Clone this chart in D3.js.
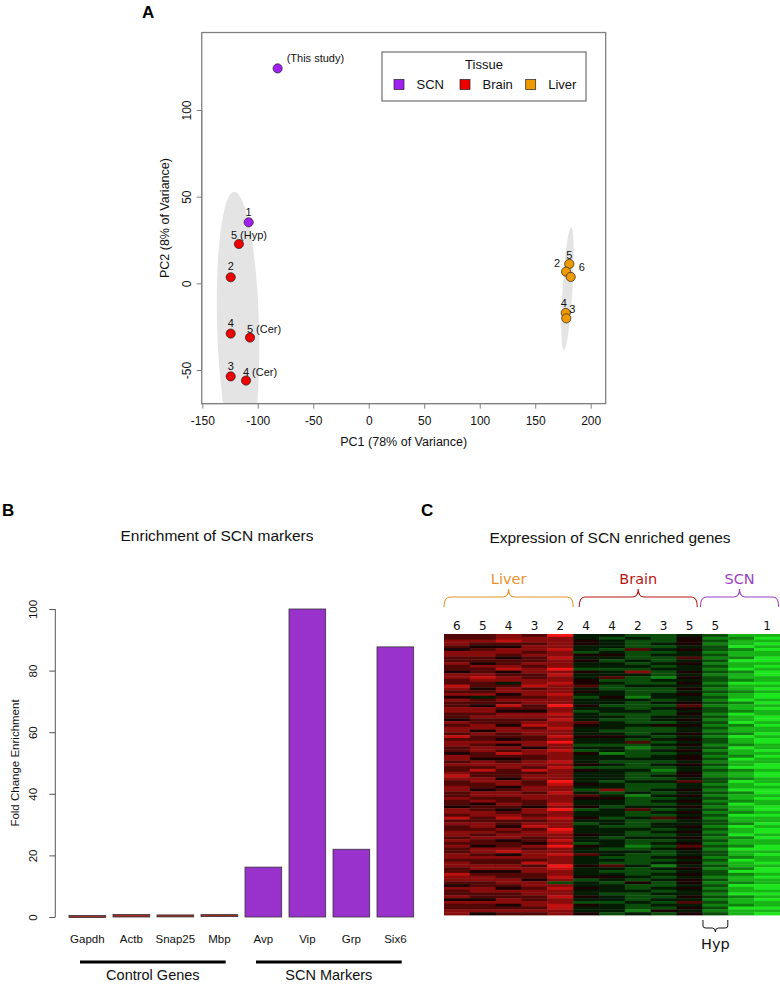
<!DOCTYPE html>
<html><head><meta charset="utf-8">
<script src="https://cdn.jsdelivr.net/npm/d3@7/dist/d3.min.js"></script>
<style>
html,body{margin:0;padding:0;background:#fff;}
svg{display:block;font-family:"Liberation Sans",Arial,Helvetica,sans-serif;}
</style></head>
<body>
<svg id="chart" width="780" height="985"></svg>
<script>
// ---------- Panel A data (PCA) ----------
const pcaTissue = ["SCN","SCN","Brain","Brain","Brain","Brain","Brain","Brain","Liver","Liver","Liver","Liver","Liver"];
const pcaLabel  = ["(This study)","1","5 (Hyp)","2","4","5 (Cer)","3","4 (Cer)","5","2","6","4","3"];
const pcaPC1    = [-82.1,-108.2,-117.0,-124.4,-124.4,-107.0,-124.4,-110.6,180.7,177.8,182.0,177.5,178.0];
const pcaPC2    = [124.0,35.2,22.7,3.5,-29.0,-31.3,-53.7,-56.1,11.2,6.75,3.7,-17.1,-20.2];
const tissueNames  = ["SCN","Brain","Liver"];
const tissueColors = ["#a020f0","#ee0000","#ee9a00"];
// ellipses (data units): centre PC1, centre PC2, half-width PC1, half-height PC2, tilt deg
const ellipseTissue = ["Brain","Liver"];
const ellipseCx = [-117.8,179.1];
const ellipseCy = [-24.2,-3.2];
const ellipseRx = [18.9,4.5];
const ellipseRy = [77.1,35.5];
const ellipseTilt = [-1.6,3.5];
const pcaXTicks = [-150,-100,-50,0,50,100,150,200];
const pcaYTicks = [-50,0,50,100];
// label placement (layout, pixels)
const pcaLabelDx = [9,0,10,0,0,14,0,14,0,-9,11,-2,6];
const pcaLabelDy = [-6,-6,-4.5,-7,-6.7,-4.7,-6.4,-4.3,-5.3,-4.7,-5.6,-5.6,-5.4];
const pcaLabelAnchor = ["start","middle","middle","middle","middle","middle","middle","middle","middle","middle","middle","middle","middle"];

// ---------- Panel B data ----------
const genes = ["Gapdh","Actb","Snap25","Mbp","Avp","Vip","Grp","Six6"];
const enrichment = [0.15,0.8,0.35,0.45,16.2,100,22.0,87.7];
const geneGroup = ["Control","Control","Control","Control","SCN","SCN","SCN","SCN"];
const groupNames = ["Control Genes","SCN Markers"];
const enrichTicks = [0,20,40,60,80,100];

// ---------- Panel C data (heatmap; digits 0 = strong green ... 9 = strong red) ----------
const heatColLabels = ["6","5","4","3","2","4","4","2","3","5","5","","1"];
const heatColumns = [
 "6677657766 7665776687 6757667766 5767768677 6657767667 8766776676 6577686766 7767676677 6776687765 7667576677",
 "6676567766 5766787665 6746657767 6677576676 7766577686 6776657767 5667766776 7676657767 6677567766 7766576675",
 "7786577656 6785677467 7567686577 6657766575 7686567766 6577567766 7656786657 6775667857 6677566776 5766775676",
 "6776776766 7677667786 7767766577 6786776677 5776677686 7766776776 6577676786 7766576777 6867766577 6776677676",
 "9777787787 7797877877 7877797787 8778778797 7877787877 7798778777 8797787779 8778797787 7798778737 8778778877",
 "4455443545 4435445564 5434454344 4654445443 4354445354 4445434654 4534454344 4544354464 4454445344 5445435445",
 "4344434543 4434463433 4454434434 3444345443 4424434344 4434473454 4344434434 4434443443 4364345434 4434434443",
 "3433363334 3437433343 3324333433 3343334363 2333433343 3343334233 3463343334 3343323433 3343334353 3433343324",
 "3334343433 4343324343 3443434334 4353343434 3434434323 4343343434 3434363443 4343434334 3424343433 4343434353",
 "4555454464 5445454545 4544565454 5454454545 4545545445 5464454545 4545454454 5454565445 4545454554 5445464545",
 "3232332323 2323233232 3232323323 2323232332 3232323232 2332323232 3232323323 2323232332 3232332323 2323232323",
 "1211021120 1102112011 2110211201 1021120112 0112011021 1201102112 0112011201 1021120112 0112021120 1102112011",
 "1010101100 1010011010 1001010110 0101101001 1010110010 0110100101 1001011010 0101100101 1010010110 0101011010"
];
const heatGroupNames = ["Liver","Brain","SCN"];
const heatGroupColors = ["#e8912a","#b81414","#9a3fc8"];
// brace spans in column units (layout)
const heatGroupFrom = [0,5.23,9.92];
const heatGroupTo   = [5,9.8,12.95];

const svg = d3.select("#chart");
const FONT2 = "'DejaVu Sans',Verdana,sans-serif";
const plainFmt = d => String(d);

// ================= PANEL A =================
const xA = d3.scaleLinear().domain([-150,200]).range([202.3,590.7]);
const yA = d3.scaleLinear().domain([-50,100]).range([370,110]);
const xlimA = [-150.5,213.5], ylimA = [-69.4,144.7];
const gA = svg.append("g");
const boxX0 = xA(xlimA[0]), boxX1 = xA(xlimA[1]), boxY0 = yA(ylimA[1]), boxY1 = yA(ylimA[0]);
svg.append("defs").append("clipPath").attr("id","clipA")
  .append("rect").attr("x",boxX0).attr("y",boxY0).attr("width",boxX1-boxX0).attr("height",boxY1-boxY0);
const colorOf = t => tissueColors[tissueNames.indexOf(t)];

const ell = gA.append("g").attr("clip-path","url(#clipA)");
ellipseTissue.forEach((t,i)=>{
  const cx = xA(ellipseCx[i]), cy = yA(ellipseCy[i]);
  ell.append("ellipse")
    .attr("cx",cx).attr("cy",cy)
    .attr("rx",Math.abs(xA(ellipseCx[i]+ellipseRx[i])-cx))
    .attr("ry",Math.abs(yA(ellipseCy[i]+ellipseRy[i])-cy))
    .attr("transform",`rotate(${ellipseTilt[i]},${cx},${cy})`)
    .attr("fill","#e4e4e4");
});
gA.append("rect").attr("x",boxX0).attr("y",boxY0).attr("width",boxX1-boxX0).attr("height",boxY1-boxY0)
  .attr("fill","none").attr("stroke","#808080").attr("stroke-width",1.3);
const axA = gA.append("g").attr("transform",`translate(0,${boxY1})`)
  .call(d3.axisBottom(xA).tickValues(pcaXTicks).tickSize(5).tickPadding(5).tickFormat(plainFmt));
axA.select(".domain").attr("stroke","#808080").attr("d",`M${xA(-150)},0H${xA(200)}`);
axA.selectAll(".tick line").attr("stroke","#808080");
axA.selectAll("text").attr("font-size",12).attr("font-family","inherit").attr("fill","#111").attr("dy","0.95em");
const ayA = gA.append("g").attr("transform",`translate(${boxX0},0)`)
  .call(d3.axisLeft(yA).tickValues(pcaYTicks).tickSize(5).tickFormat(plainFmt));
ayA.select(".domain").attr("stroke","#808080").attr("d",`M0,${yA(-50)}V${yA(100)}`);
ayA.selectAll(".tick line").attr("stroke","#808080");
ayA.selectAll("text").attr("font-size",12).attr("font-family","inherit").attr("fill","#111")
  .attr("x",null).attr("dy",null).attr("text-anchor","middle")
  .attr("transform","translate(-11,0) rotate(-90)");
gA.append("text").attr("x",(boxX0+boxX1)/2).attr("y",446)
  .attr("text-anchor","middle").attr("font-size",12.5).attr("fill","#111").text("PC1 (78% of Variance)");
gA.append("text").attr("transform",`translate(169,${(boxY0+boxY1)/2}) rotate(-90)`)
  .attr("text-anchor","middle").attr("font-size",12.5).attr("fill","#111").text("PC2 (8% of Variance)");
pcaPC1.forEach((v,i)=>{
  gA.append("circle").attr("cx",xA(v)).attr("cy",yA(pcaPC2[i])).attr("r",4.6)
    .attr("fill",colorOf(pcaTissue[i])).attr("stroke","#222").attr("stroke-width",0.7);
});
pcaPC1.forEach((v,i)=>{
  gA.append("text").attr("x",xA(v)+pcaLabelDx[i]).attr("y",yA(pcaPC2[i])+pcaLabelDy[i])
    .attr("text-anchor",pcaLabelAnchor[i]).attr("font-size",11).attr("fill","#111").text(pcaLabel[i]);
});
const lg = gA.append("g");
lg.append("rect").attr("x",382).attr("y",52).attr("width",204).attr("height",49)
  .attr("fill","#fff").attr("stroke","#555").attr("stroke-width",1);
lg.append("text").attr("x",484).attr("y",69).attr("text-anchor","middle").attr("font-size",13).attr("fill","#111").text("Tissue");
const legX = [399,465,530.7];
tissueNames.forEach((t,i)=>{
  lg.append("rect").attr("x",legX[i]-5).attr("y",79.5).attr("width",10).attr("height",10)
    .attr("fill",tissueColors[i]).attr("stroke","#222").attr("stroke-width",0.7);
  lg.append("text").attr("x",legX[i]+17.5).attr("y",89).attr("font-size",13).attr("fill","#111").text(t);
});
svg.append("text").attr("x",142).attr("y",18).attr("font-size",17).attr("font-weight","bold").text("A");

// ================= PANEL B =================
const gB = svg.append("g");
const xB = d3.scaleBand().domain(genes).range([69,413.7]).paddingInner(0.166).paddingOuter(0);
const yB = d3.scaleLinear().domain([0,100]).range([917,609]);
const ayB = gB.append("g").attr("transform","translate(55.3,0)")
  .call(d3.axisLeft(yB).tickValues(enrichTicks).tickSize(6).tickFormat(plainFmt));
ayB.select(".domain").attr("stroke","#555").attr("d",`M0,${yB(0)}V${yB(100)}`);
ayB.selectAll(".tick line").attr("stroke","#555");
ayB.selectAll("text").attr("font-size",11.5).attr("font-family","inherit").attr("fill","#111")
  .attr("x",null).attr("dy",null).attr("text-anchor","middle")
  .attr("transform","translate(-18,0) rotate(-90)");
gB.append("text").attr("transform","translate(19,763) rotate(-90)").attr("text-anchor","middle")
  .attr("font-size",11.5).attr("fill","#111").text("Fold Change Enrichment");
gB.append("text").attr("x",217).attr("y",541).attr("text-anchor","middle").attr("font-size",15.5).attr("fill","#111")
  .text("Enrichment of SCN markers");
genes.forEach((g,i)=>{
  const h = yB(0)-yB(enrichment[i]);
  gB.append("rect").attr("x",xB(g)).attr("y",yB(enrichment[i])-(h<2?1:0)).attr("width",xB.bandwidth())
    .attr("height",Math.max(h,2))
    .attr("fill",geneGroup[i]==="SCN"?"#9932cc":"#a52a2a").attr("stroke","#333").attr("stroke-width",0.8);
  gB.append("text").attr("x",xB(g)+xB.bandwidth()/2).attr("y",943).attr("text-anchor","middle")
    .attr("font-size",11.5).attr("fill","#111").text(g);
});
["Control","SCN"].forEach((grp,k)=>{
  const members = genes.filter((g,i)=>geneGroup[i]===grp);
  const x0 = xB(members[0])+11, x1 = xB(members[members.length-1])+xB.bandwidth()-12;
  gB.append("line").attr("x1",x0).attr("x2",x1).attr("y1",962).attr("y2",962).attr("stroke","#000").attr("stroke-width",3);
  gB.append("text").attr("x",(x0+x1)/2).attr("y",980).attr("text-anchor","middle").attr("font-size",14.5).attr("fill","#111")
    .text(groupNames[k]);
});
svg.append("text").attr("x",2).attr("y",516).attr("font-size",17).attr("font-weight","bold").text("B");

// ================= PANEL C =================
const gC = svg.append("g");
const cols = heatColumns.map(s=>s.replace(/\s/g,"").split("").map(Number));
const nRows = cols[0].length;
const xC = d3.scaleBand().domain(d3.range(cols.length)).range([444,780]);
const yC = d3.scaleBand().domain(d3.range(nRows)).range([634,915]);
const colorC = d3.scaleLinear().domain([0,4.5,9]).range(["#1ee61e","#000000","#f51515"]);
cols.forEach((col,j)=>{
  col.forEach((v,r)=>{
    gC.append("rect").attr("x",xC(j)).attr("y",yC(r)).attr("width",xC.bandwidth()+0.4).attr("height",yC.bandwidth()+0.4)
      .attr("fill",colorC(v));
  });
  gC.append("text").attr("x",xC(j)+xC.bandwidth()/2).attr("y",630).attr("text-anchor","middle")
    .attr("font-size",12).attr("font-family",FONT2).attr("fill","#111").text(heatColLabels[j]);
});
const colPos = c => xC.range()[0] + c*xC.step();
heatGroupNames.forEach((nm,i)=>{
  const x0 = colPos(heatGroupFrom[i]), x1 = colPos(heatGroupTo[i]), xm = (x0+x1)/2;
  const yEnd = 607, yLine = 597, yTip = 589, r = 6;
  const p = `M${x0},${yEnd} Q${x0},${yLine} ${x0+r},${yLine} L${xm-r},${yLine} Q${xm},${yLine} ${xm},${yTip} Q${xm},${yLine} ${xm+r},${yLine} L${x1-r},${yLine} Q${x1},${yLine} ${x1},${yEnd}`;
  gC.append("path").attr("d",p).attr("fill","none").attr("stroke",heatGroupColors[i]).attr("stroke-width",1.1);
  gC.append("text").attr("x",xm).attr("y",584).attr("text-anchor","middle").attr("font-size",14.5)
    .attr("font-family",FONT2).attr("fill",heatGroupColors[i]).text(nm);
});
{
  const j = 10, x0 = xC(j)+0.5, x1 = xC(j)+xC.bandwidth()-0.5, xm=(x0+x1)/2;
  gC.append("path").attr("d",`M${x0},920 V926 Q${x0},928 ${x0+3},928 H${xm-3} Q${xm},928 ${xm},932 Q${xm},928 ${xm+3},928 H${x1-3} Q${x1},928 ${x1},926 V920`)
    .attr("fill","none").attr("stroke","#111").attr("stroke-width",1);
  gC.append("text").attr("x",xm).attr("y",949).attr("text-anchor","middle").attr("font-size",14.5)
    .attr("font-family",FONT2).attr("fill","#111").text("Hyp");
}
gC.append("text").attr("x",610).attr("y",543).attr("text-anchor","middle").attr("font-size",15.5).attr("fill","#111")
  .text("Expression of SCN enriched genes");
svg.append("text").attr("x",421).attr("y",516).attr("font-size",17).attr("font-weight","bold").text("C");
</script>
</body></html>
